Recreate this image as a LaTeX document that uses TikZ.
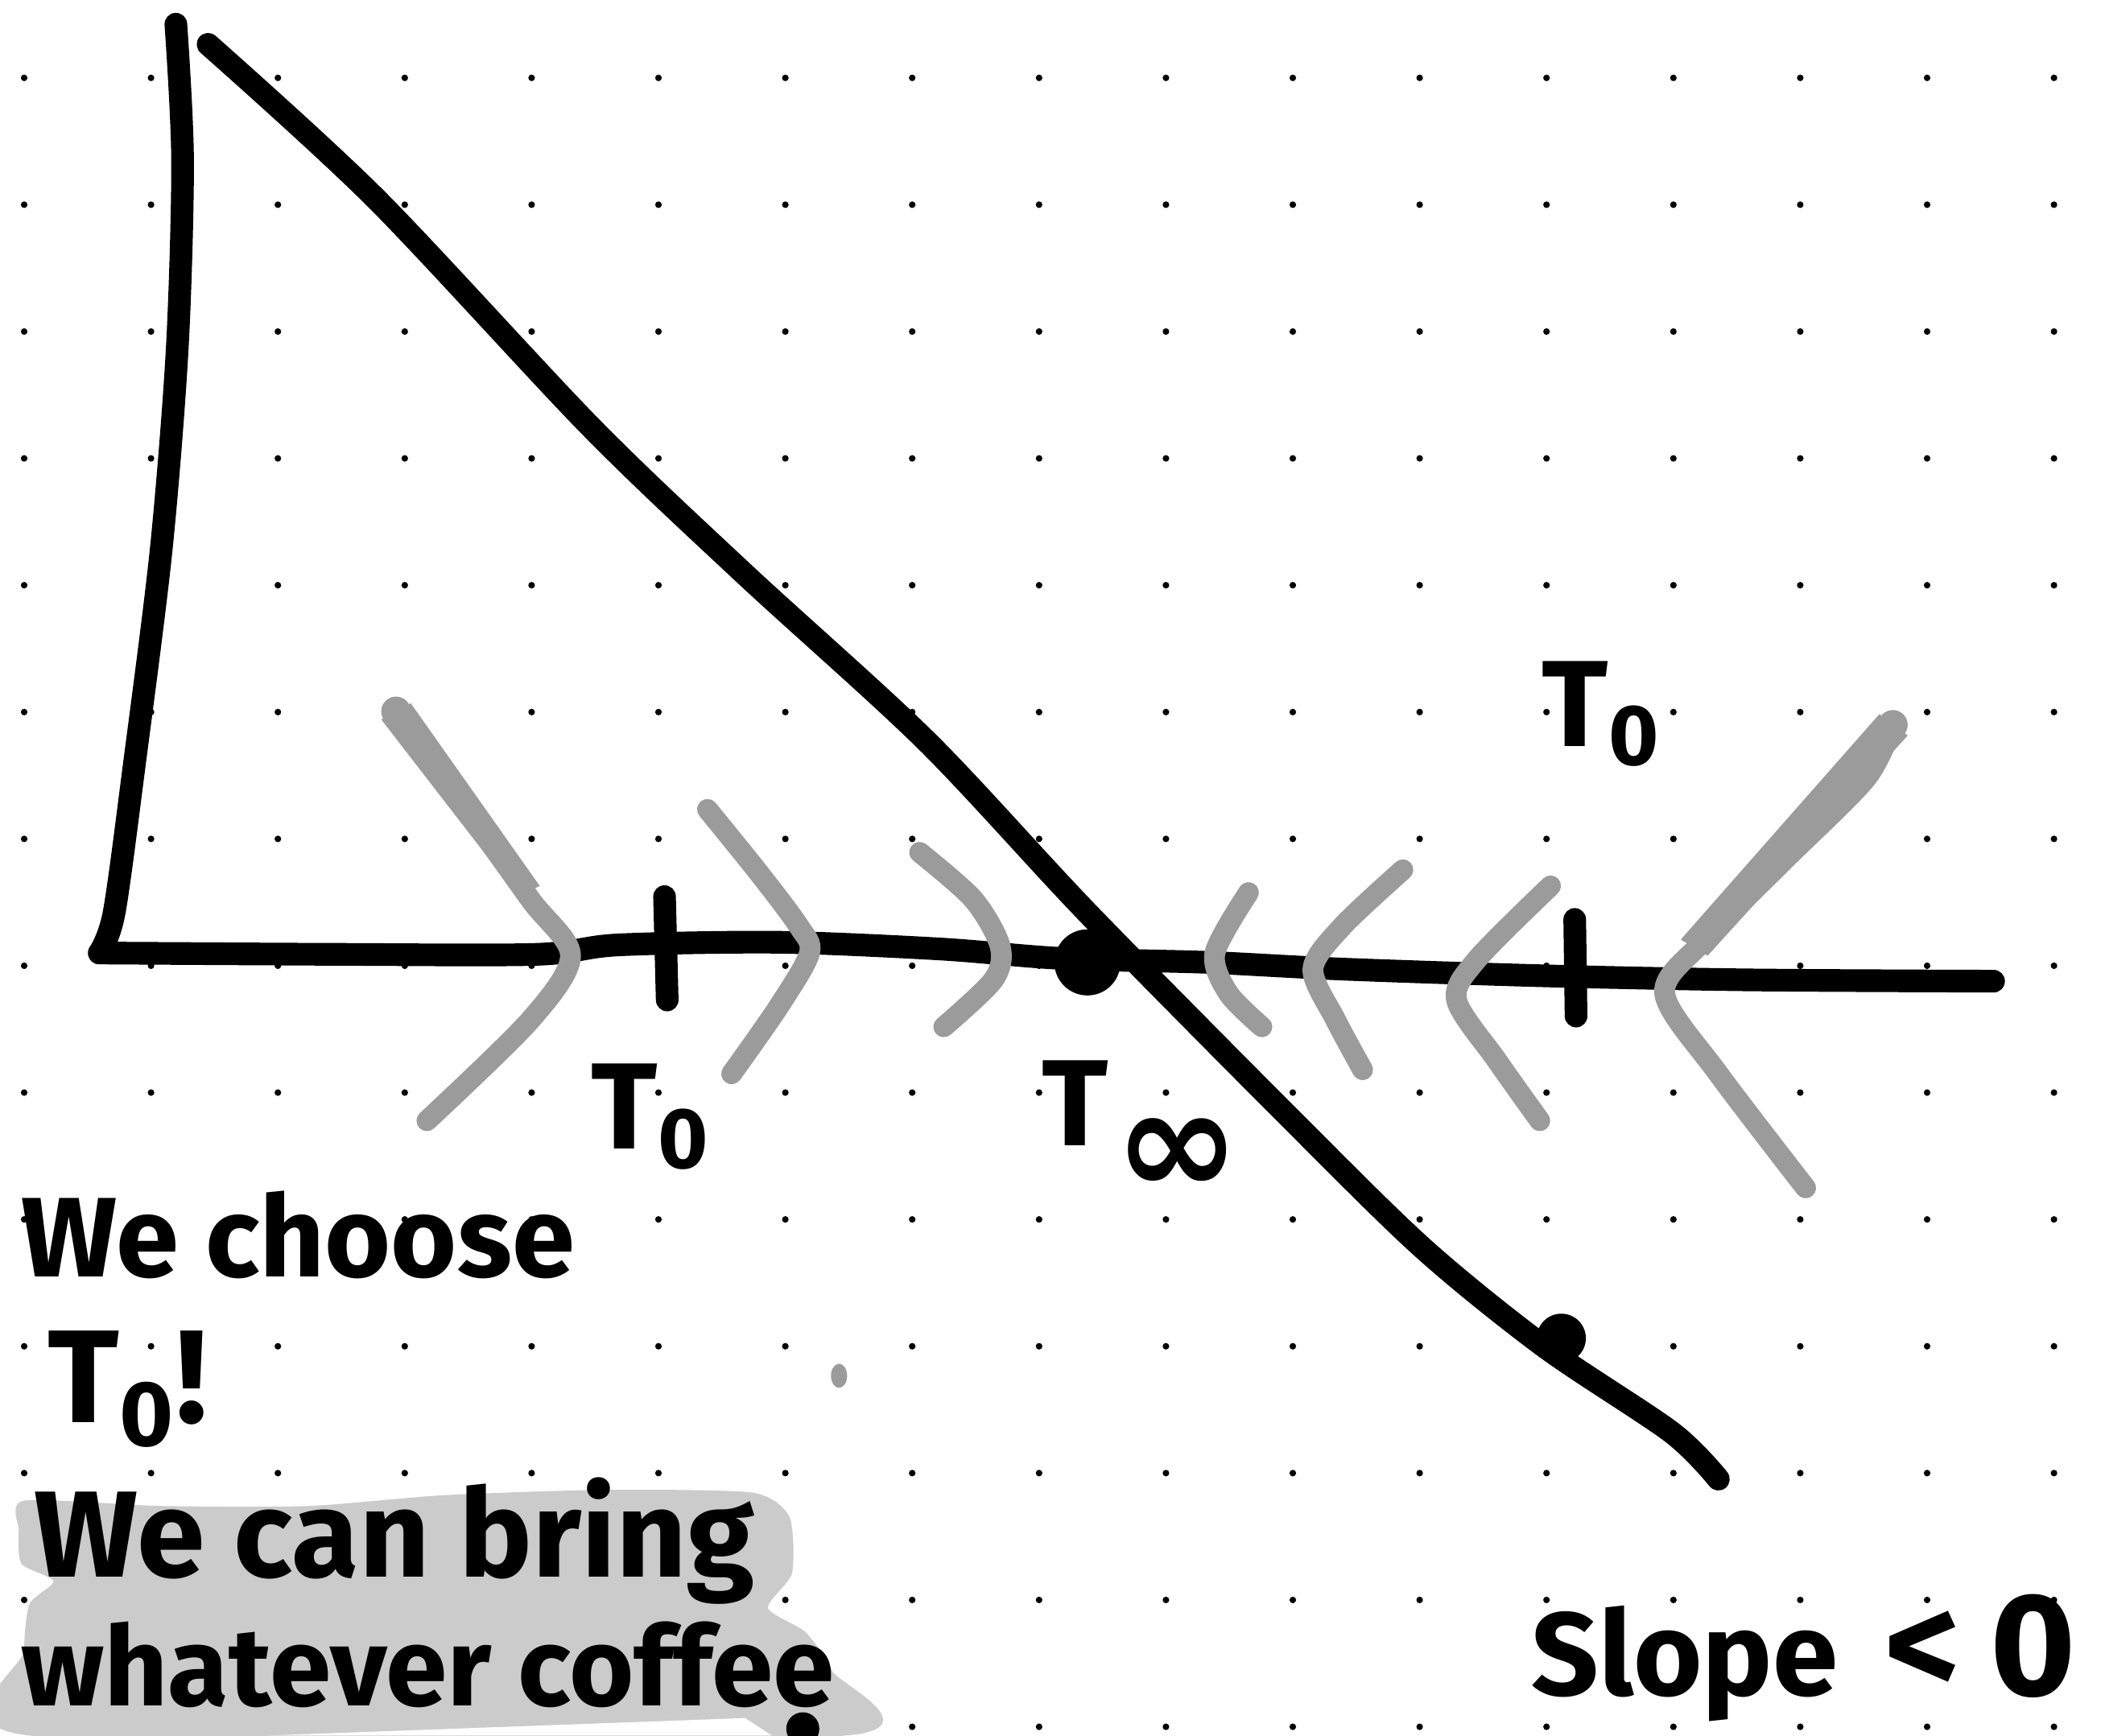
\documentclass[tikz,border=0pt]{standalone}
\usepackage{fontspec}
\setmainfont{Fira Sans}
\newfontfamily\symfont{DejaVu Sans}
\definecolor{penGray}{HTML}{9B9B9B}
\definecolor{hiGray}{HTML}{CBCBCB}
\begin{document}
\begin{tikzpicture}[x=0.01cm,y=-0.01cm,
  ink/.style={line width=4.8pt, line cap=round, line join=round, black},
  pen/.style={line width=4.4pt, line cap=round, line join=round, penGray},
  hand/.style={inner sep=0pt, anchor=west, font=\bfseries},
  lab/.style={inner sep=0pt, font=\fontsize{26}{30}\selectfont\bfseries},
]
\fill[white] (0,0) rectangle (1568,1293);
\useasboundingbox (0,0) rectangle (1568,1293);
% dot grid
\foreach \i in {0,...,16} \foreach \j in {0,...,13}
  \fill (18+94.5*\i, 58+94.5*\j) circle (0.7pt);
% highlight blob
\fill[hiGray] plot[smooth cycle, tension=0.4] coordinates {(18,1118) (120,1122) (230,1122) (330,1114) (450,1110) (560,1112) (588,1130) (590,1172) (572,1198) (600,1216) (620,1245) (630,1293) (22,1293) (18,1230) (22,1195) (40,1178) (16,1165) (14,1140)};
\fill[white] (200,1293) -- (555,1280) -- (575,1293) -- cycle;
% gray spot
\fill[penGray] (625,1025) ellipse (6 and 9);
% black lines
\draw[ink] plot[smooth] coordinates {(131,18) (136,120) (132,260) (120,410) (100,570) (85,680) (74,710)};
\draw[ink] plot[smooth] coordinates {(74,710) (250,711) (400,711) (460,704) (580,702) (700,707) (790,714) (900,717) (1000,722) (1150,727) (1300,730) (1485,731)};
\draw[ink] plot[smooth] coordinates {(155,33) (280,148) (440,318) (555,428) (690,552) (810,680) (960,832) (1060,930) (1150,1003) (1245,1067) (1280,1102)};
% points and ticks
\fill (810,717) circle (7pt);
\fill (1163,997) circle (5.2pt);
\draw[ink] (495,668) -- (497,745);
\draw[ink] (1173,685) -- (1174,757);
% gray chevrons
\fill[penGray] (295,530) circle (11);
\fill[penGray] (284,536) -- (306,524) -- (402,660) -- (386,668) -- cycle;
\draw[pen] plot[smooth] coordinates {(295,530) (345,600) (395,670) (425,712) (395,760) (318,835)};
\draw[pen] plot[smooth] coordinates {(527,603) (565,650) (595,690) (603,710) (580,750) (545,800)};
\draw[pen] plot[smooth] coordinates {(685,635) (725,670) (745,705) (740,730) (703,765)};
\draw[pen] plot[smooth] coordinates {(930,665) (905,710) (915,740) (940,765)};
\draw[pen] plot[smooth] coordinates {(1045,648) (1000,690) (978,722) (995,760) (1015,797)};
\draw[pen] plot[smooth] coordinates {(1155,660) (1100,715) (1085,745) (1115,790) (1147,835)};
\fill[penGray] (1410,540) circle (11);
\fill[penGray] (1400,532) -- (1421,548) -- (1272,712) -- (1252,700) -- cycle;
\draw[pen] plot[smooth] coordinates {(1410,540) (1390,580) (1330,640) (1270,700) (1240,740) (1280,800) (1345,885)};
\fill (598,1288) circle (3.5pt);
% labels
\node[lab] (t0a) at (1193,532) {T\textsubscript{0}};
\node[lab] (t0b) at (485,832) {T\textsubscript{0}};
\node[lab] (tinf) at (850,840) {T\kern0.05em\raisebox{-0.75ex}{\symfont\bfseries\fontsize{32}{32}\selectfont ∞}};
\node[hand, font=\fontsize{24}{28}\selectfont\bfseries] (choose) at (15,920) {We choose};
\node[hand, font=\fontsize{28}{32}\selectfont\bfseries] (t0c) at (35,1035) {T\textsubscript{0}!};
\node[hand, font=\fontsize{26}{30}\selectfont\bfseries] (bring) at (25,1148) {We can bring};
\node[hand, font=\fontsize{23.5}{28}\selectfont\bfseries] (coffee) at (15,1240) {whatever coffee};
\node[hand, font=\fontsize{25}{30}\selectfont\bfseries] (slope) at (1140,1235) {Slope\hspace{0.4em}{\fontsize{31}{31}\selectfont <\hspace{0.2em}0}};
\end{tikzpicture}
\end{document}
